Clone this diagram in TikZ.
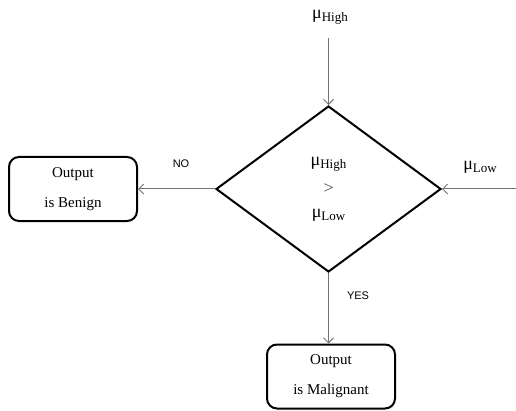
\documentclass[tikz,border=0pt]{standalone}
\usepackage{fontspec}
\setmainfont{Liberation Serif}
\newfontfamily\branchfont{Liberation Sans}
\usetikzlibrary{arrows.meta,shapes.geometric,positioning}
\newcommand{\muvar}[1]{{\fontsize{18}{18}\selectfont μ}\raisebox{-3pt}{\fontsize{13}{13}\selectfont #1}}
\tikzset {
  >={Straight Barb[length=5pt,width=10pt]},
  outbox/.style={draw,line width=2pt,rounded corners=10pt,minimum width=128pt,
    minimum height=64pt,align=center,font=\fontsize{15}{30}\selectfont},
  decision/.style={draw,diamond,line width=2pt,minimum width=225pt,
    minimum height=166pt,inner sep=0pt,align=center,font=\fontsize{15}{26}\selectfont},
  flow/.style={->,draw=black!55,line width=1pt},
  branch/.style={font=\branchfont\fontsize{11}{12}\selectfont},
}

\begin{document}
\begin{tikzpicture}[x=1pt,y=1pt]
  \useasboundingbox (0,0) rectangle (516,410);

  \node[decision] (test) at (328.5,221) {\muvar{High}\\$>$\\\muvar{Low}};
  \node[outbox] (benign) at (73,221) {Output\\is Benign};
  \node[outbox] (malignant) at (331,33.5) {Output\\is Malignant};

  \coordinate (highin) at (328.5,372);
  \coordinate (lowin) at (516,221);
  \node (highlbl) at (330,393) {\muvar{High}};
  \node (lowlbl) at (480,243) {\muvar{Low}};

  \draw[flow] (highin) -- (test.north);
  \draw[flow] (lowin) -- (test.east);
  \draw[flow] (test.west) -- (benign.east);
  \draw[flow] (test.south) -- (test.south |- malignant.north);

  \node[branch] (no) at (181,246) {NO};
  \node[branch] (yes) at (358,114) {YES};
\end{tikzpicture}
\end{document}
